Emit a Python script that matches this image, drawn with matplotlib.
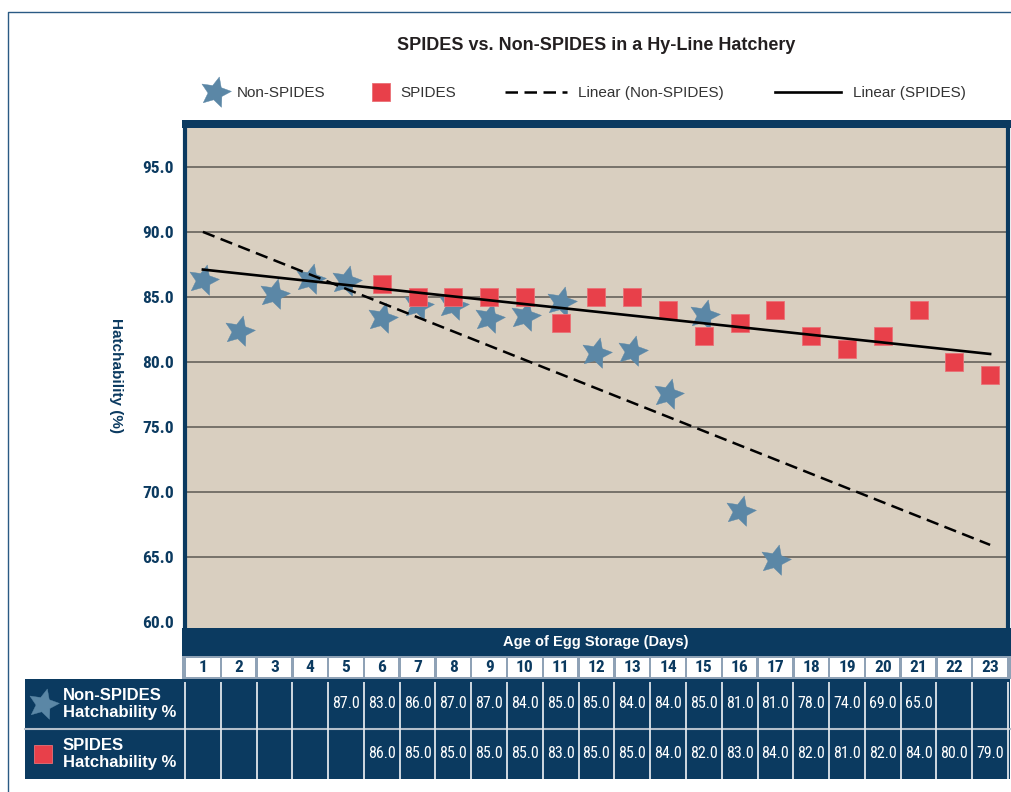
import matplotlib.pyplot as plt
from matplotlib.markers import MarkerStyle
from matplotlib.patches import Rectangle
from matplotlib.path import Path
from matplotlib.transforms import Affine2D, blended_transform_factory

W, H = 1012, 792

days = list(range(1, 24))
y_ticks = [60, 65, 70, 75, 80, 85, 90, 95]

# markers as plotted in the chart
non_spides_days = list(range(1, 18))
non_spides_vals = [86.3, 82.4, 85.2, 86.4, 86.2, 83.4, 84.4, 84.4, 83.4, 83.5,
                   84.6, 80.7, 80.8, 77.5, 83.6, 68.5, 64.7]
spides_days = list(range(6, 24))
spides_vals = [86, 85, 85, 85, 85, 83, 85, 85, 84, 82, 83, 84, 82, 81, 82, 84, 80, 79]

# trend lines (value at day 1 and day 23)
trend_days = [1, 23]
trend_non_spides = [90.0, 65.9]
trend_spides = [87.1, 80.6]

# table rows
table_non_days = list(range(5, 22))
table_non_vals = [87, 83, 86, 87, 87, 84, 85, 85, 84, 84, 85, 81, 81, 78, 74, 69, 65]
table_sp_days = list(range(6, 24))
table_sp_vals = [86, 85, 85, 85, 85, 83, 85, 85, 84, 82, 83, 84, 82, 81, 82, 84, 80, 79]

NAVY = '#0b3a60'
BEIGE = '#d9cfc0'
STAR = '#5b87a6'
RED = '#e8404a'
GRID = '#66625c'
NARROW = ['Roboto Condensed', 'PT Sans Narrow', 'Liberation Sans', 'DejaVu Sans']
SANS = ['Liberation Sans', 'DejaVu Sans']

fig = plt.figure(figsize=(W / 100, H / 100), dpi=100)

# overlay in pixel coords for the frame / table
ov = fig.add_axes([0, 0, 1, 1])
ov.set_xlim(0, W)
ov.set_ylim(H, 0)
ov.axis('off')

ax = fig.add_axes([185 / W, 1 - 628 / H, 823 / W, 500 / H])
bt = blended_transform_factory(ax.transData, ov.transData)


def box(x0, y0, x1, y1, color):
    ov.add_patch(Rectangle((x0, y0), x1 - x0, y1 - y0, color=color, lw=0))


# outer frame
ov.plot([8, 8, W], [H, 12, 12], color='#2a5a84', lw=1)

ov.text(596, 46, 'SPIDES vs. Non-SPIDES in a Hy-Line Hatchery', ha='center', va='center',
        fontsize=13, fontweight='bold', color='#231f20', family=SANS)

# navy bands round the plot
box(182, 120, W, 128, NAVY)
box(182, 628, W, 656, NAVY)
ov.text(596, 642, 'Age of Egg Storage (Days)', ha='center', va='center',
        fontsize=10.5, fontweight='bold', color='white', family=SANS)

# day number row
box(182, 656, W, 679, '#8fa2b6')
g = 1.2 / 35.8
for d in days:
    ov.add_patch(Rectangle((d - 0.5 + g, 657.5), 1 - 2 * g, 19.5, transform=bt,
                           color='white', lw=0))
    ov.text(d, 668, str(d), transform=bt, ha='center', va='center', fontsize=12.5,
            fontweight='bold', color=NAVY, family=NARROW)

# data rows
box(25, 679, 1010, 779, NAVY)
ov.plot([25, 1010], [728.5, 728.5], color='#b4bfcb', lw=1.5)
ov.vlines([d - 0.5 for d in days] + [23.5], 682, 779, transform=bt,
          colors='#dfe5eb', lw=1.3)
for d, v in zip(table_non_days, table_non_vals):
    ov.text(d, 704, f'{v:.1f}', transform=bt, ha='center', va='center',
            fontsize=11.5, color='white', family=NARROW)
for d, v in zip(table_sp_days, table_sp_vals):
    ov.text(d, 754, f'{v:.1f}', transform=bt, ha='center', va='center',
            fontsize=11.5, color='white', family=NARROW)

# main plot
ax.set_facecolor(BEIGE)
ax.set_xlim(0.5, 23.5)
ax.set_ylim(59.5, 98)
ax.set_xticks([])
ax.set_yticks(y_ticks)
ax.set_yticklabels([f'{v:.1f}' for v in y_ticks], fontsize=12.5, fontweight='bold',
                   color=NAVY, family=NARROW)
ax.tick_params(axis='y', length=0, pad=8)
ax.grid(axis='y', color=GRID, lw=1.2)
ax.yaxis.get_gridlines()[0].set_visible(False)
ax.set_axisbelow(True)
for s in ['top', 'bottom']:
    ax.spines[s].set_visible(False)
for s in ['left', 'right']:
    ax.spines[s].set_color(NAVY)
    ax.spines[s].set_linewidth(3)

ov.text(116, 376, 'Hatchability (%)', rotation=270, ha='center', va='center',
        fontsize=11, fontweight='bold', color=NAVY, family=SANS)

# fatter, slightly tilted star like the original
star = MarkerStyle(Path.unit_regular_star(5, 0.47),
                   transform=Affine2D().rotate_deg(-14))
h_star, = ax.plot(non_spides_days, non_spides_vals, ls='none', marker=star, ms=23,
                  color=STAR, mec=STAR, mew=0.3, zorder=3)
h_sq, = ax.plot(spides_days, spides_vals, ls='none', marker='s', ms=12.8,
                color=RED, mec='#ea7076', mew=0.6, zorder=4)
h_dash, = ax.plot(trend_days, trend_non_spides, color='black', lw=1.8,
                  ls=(0, (5, 2.6)), zorder=5)
h_line, = ax.plot(trend_days, trend_spides, color='black', lw=1.9, zorder=5)


def item(handle, label, x, y, hl, tp, size, color, weight='normal'):
    leg = fig.legend([handle], [label], loc='center left',
                     bbox_to_anchor=(x / W, 1 - y / H), frameon=False, borderpad=0,
                     borderaxespad=0, handlelength=hl, handletextpad=tp,
                     labelcolor=color, prop=dict(family=SANS, size=size, weight=weight))
    leg.get_texts()[0].set_linespacing(1.25)
    return leg


item(h_star, 'Non-SPIDES', 200, 93, 1.96, 0.46, 11, '#333333')
item(h_sq, 'SPIDES', 371, 93, 1.31, 0.59, 11, '#333333')
item(h_dash, 'Linear (Non-SPIDES)', 505, 93, 4.06, 0.72, 11, '#333333')
item(h_line, 'Linear (SPIDES)', 775, 93, 4.32, 0.77, 11, '#333333')

item(h_star, 'Non-SPIDES\nHatchability %', 30, 704, 1.56, 0.42, 12, 'white', 'bold')
item(h_sq, 'SPIDES\nHatchability %', 34, 754, 1.08, 0.66, 12, 'white', 'bold')

fig.savefig('out.png', dpi=100)
